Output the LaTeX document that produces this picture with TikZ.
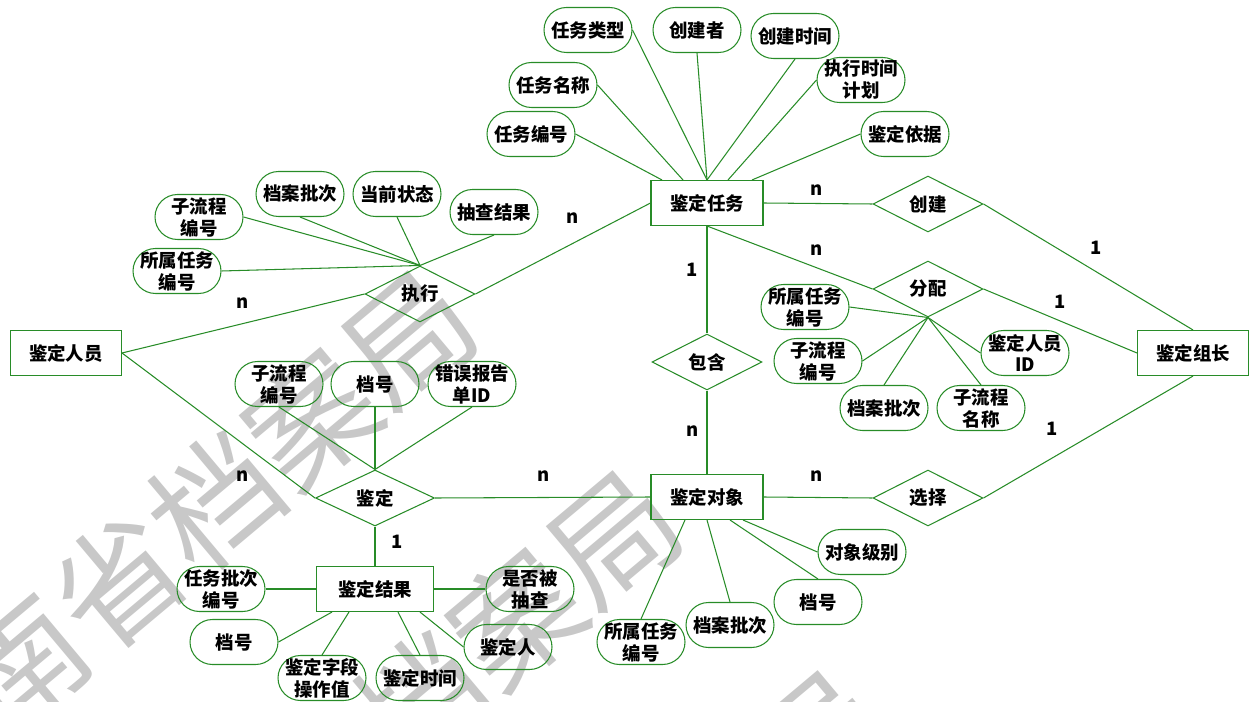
\documentclass[tikz,border=0pt]{standalone}
\usepackage{fontspec}
\setmainfont{Noto Sans CJK SC}
\usetikzlibrary{shapes.geometric}
\definecolor{erline}{RGB}{40,140,40}
\definecolor{wmgray}{RGB}{200,200,200}

\begin{document}
\begin{tikzpicture}[x=0.02cm,y=-0.02cm,
  every node/.style={font=\fontsize{10.5}{12.5}\selectfont\bfseries, text=black},
  entity/.style={draw=erline, line width=0.6pt, rectangle, minimum width=2.24cm, minimum height=0.9cm, inner sep=0pt},
  attr/.style={draw=erline, line width=0.6pt, rectangle, rounded corners=0.45cm, minimum width=1.76cm, minimum height=0.9cm, inner sep=0pt, align=center},
  rel/.style={draw=erline, line width=0.6pt, diamond, minimum width=2.2cm, minimum height=1.12cm, inner sep=0pt},
  card/.style={inner sep=0pt},
  wmark/.style={text=wmgray, font=\fontsize{72}{72}\selectfont\mdseries, rotate=40, inner sep=0pt},
  link/.style={draw=erline, line width=0.6pt}]

\useasboundingbox (0,0) rectangle (1257,702);

% watermark
\begin{scope}
  \clip (0,0) rectangle (1257,702);
  \node[wmark] (wm1) at (166,541) {湖南省档案局};
  \node[wmark] (wm2) at (371,741) {湖南省档案局};
  \node[wmark] (wm3) at (576,941) {湖南省档案局};
\end{scope}

% entities
\node[entity] (task) at (707,203) {鉴定任务};
\node[entity, minimum width=2.22cm] (staff) at (66,353) {鉴定人员};
\node[entity, minimum width=2.22cm] (leader) at (1193,353) {鉴定组长};
\node[entity] (obj) at (707,497) {鉴定对象};
\node[entity, minimum width=2.34cm] (result) at (375,589) {鉴定结果};

% relations
\node[rel] (create) at (928,204) {创建};
\node[rel] (assign) at (928,289) {分配};
\node[rel] (contain) at (707,362) {包含};
\node[rel] (exec) at (420,294) {执行};
\node[rel, minimum width=2.38cm] (judge) at (375,498) {鉴定};
\node[rel] (select) at (928,498) {选择};

% attributes of the task
\node[attr] (tType) at (588,30) {任务类型};
\node[attr] (tCreator) at (697,30) {创建者};
\node[attr] (tTime) at (795,36) {创建时间};
\node[attr] (tPlan) at (861,80) {执行时间\\计划};
\node[attr] (tName) at (553,85) {任务名称};
\node[attr] (tId) at (531,134) {任务编号};
\node[attr] (tBasis) at (905,134) {鉴定依据};

% attributes of exec
\node[attr] (eSub) at (199,217) {子流程\\编号};
\node[attr] (eBatch) at (300,194) {档案批次};
\node[attr] (eState) at (397,194) {当前状态};
\node[attr] (eCheck) at (494,212) {抽查结果};
\node[attr] (eTask) at (177,271) {所属任务\\编号};

% attributes of assign
\node[attr] (aTask) at (805,307) {所属任务\\编号};
\node[attr] (aSub) at (818,361) {子流程\\编号};
\node[attr] (aBatch) at (884,408) {档案批次};
\node[attr] (aName) at (981,408) {子流程\\名称};
\node[attr] (aStaff) at (1025,353) {鉴定人员\\ID};

% attributes of judge
\node[attr] (jSub) at (279,384) {子流程\\编号};
\node[attr] (jNo) at (375,384) {档号};
\node[attr] (jErr) at (472,384) {错误报告\\单ID};

% attributes of the object
\node[attr] (oLevel) at (862,552) {对象级别};
\node[attr] (oNo) at (818,602) {档号};
\node[attr] (oBatch) at (730,625) {档案批次};
\node[attr] (oTask) at (641,642) {所属任务\\编号};

% attributes of the result
\node[attr] (rBatch) at (221,589) {任务批次\\编号};
\node[attr] (rNo) at (234,642) {档号};
\node[attr] (rValue) at (322,678) {鉴定字段\\操作值};
\node[attr] (rTime) at (420,678) {鉴定时间};
\node[attr] (rPerson) at (508,647) {鉴定人};
\node[attr] (rCheck) at (530,589) {是否被\\抽查};

% task attribute lines
\draw[link] (tId.east) -- ([xshift=-0.9cm]task.north);
\draw[link] (tName.east) -- ([xshift=-0.48cm]task.north);
\draw[link] (tType.east) -- (task.north);
\draw[link] (tCreator.south) -- (task.north);
\draw[link] (tTime.south) -- (task.north);
\draw[link] (tPlan.west) -- ([xshift=0.42cm]task.north);
\draw[link] (tBasis.west) -- ([xshift=0.9cm]task.north);

% exec attribute lines
\draw[link] (eSub.east) -- (exec.north);
\draw[link] (eBatch.south) -- (exec.north);
\draw[link] (eState.south) -- (exec.north);
\draw[link] (eCheck.south) -- (exec.north);
\draw[link] (eTask.east) -- (exec.north);

% assign attribute lines
\draw[link] (aTask.east) -- (assign.south);
\draw[link] (aSub.east) -- (assign.south);
\draw[link] (aBatch.north) -- (assign.south);
\draw[link] (aName.north) -- (assign.south);
\draw[link] (aStaff.west) -- (assign.south);

% judge attribute lines
\draw[link] (jSub.south) -- (judge.north);
\draw[link] (jNo.south) -- (judge.north);
\draw[link] (jErr.south) -- (judge.north);

% object attribute lines
\draw[link] ([xshift=0.72cm]obj.south) -- (oLevel.west);
\draw[link] ([xshift=0.46cm]obj.south) -- (oNo.north);
\draw[link] (obj.south) -- (oBatch.north);
\draw[link] ([xshift=-0.44cm]obj.south) -- (oTask.north);

% result attribute lines
\draw[link] (rBatch.east) -- (result.west);
\draw[link] (rNo.east) -- ([xshift=-0.86cm]result.south);
\draw[link] (rValue.north) -- ([xshift=-0.52cm]result.south);
\draw[link] (rTime.north) -- ([xshift=0.46cm]result.south);
\draw[link] (rPerson.west) -- ([xshift=0.9cm]result.south);
\draw[link] (rCheck.west) -- (result.east);

% relation lines
\draw[link] (task.east) -- (create.west);
\draw[link] (create.east) -- (leader.north);
\draw[link] (task.south) -- (assign.west);
\draw[link] (assign.east) -- (leader.west);
\draw[link] (task.south) -- (contain.north);
\draw[link] (contain.south) -- (obj.north);
\draw[link] (task.west) -- (exec.east);
\draw[link] (exec.west) -- (staff.east);
\draw[link] (staff.east) -- (judge.west);
\draw[link] (judge.east) -- (obj.west);
\draw[link] (judge.south) -- (result.north);
\draw[link] (obj.east) -- (select.west);
\draw[link] (select.east) -- (leader.south);

% cardinalities
\node[card] (nTaskCreate) at (817,190) {n};
\node[card] (nTaskExec) at (573,218) {n};
\node[card] (oneTaskContain) at (692,270) {1};
\node[card] (nTaskAssign) at (817,250) {n};
\node[card] (oneCreateLeader) at (1096,248) {1};
\node[card] (oneAssignLeader) at (1060,302) {1};
\node[card] (nStaffExec) at (243,303) {n};
\node[card] (nContainObj) at (693,431) {n};
\node[card] (nStaffJudge) at (243,476) {n};
\node[card] (nJudgeObj) at (544,476) {n};
\node[card] (oneJudgeResult) at (397,542) {1};
\node[card] (nObjSelect) at (817,476) {n};
\node[card] (oneSelectLeader) at (1052,429) {1};

\end{tikzpicture}
\end{document}
